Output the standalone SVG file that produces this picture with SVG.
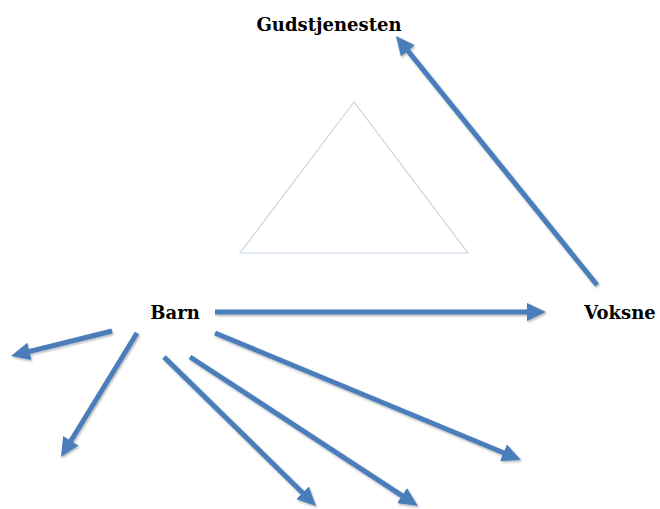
<svg xmlns="http://www.w3.org/2000/svg" width="660" height="509" viewBox="0 0 660 509">
<style>
.lbl{font-family:"DejaVu Serif","Liberation Serif",serif;font-weight:bold;font-size:18px;fill:#000;text-anchor:middle}
.arr{stroke:#4a7ebb;stroke-width:5;fill:none;marker-end:url(#ah);filter:url(#sh)}
</style>
<defs>
<marker id="ah" viewBox="0 0 19 18" refX="4" refY="9" markerWidth="19" markerHeight="18" markerUnits="userSpaceOnUse" orient="auto">
<path d="M0,0 L19,9 L0,18 z" fill="#4a7ebb"/>
</marker>
<filter id="sh" filterUnits="userSpaceOnUse" x="0" y="0" width="660" height="509">
<feDropShadow dx="1" dy="1.5" stdDeviation="1" flood-color="#000" flood-opacity="0.3"/>
</filter>
</defs>
<rect width="660" height="509" fill="#fff"/>
<g id="triangle">
<polygon points="354,102 240,253 468,253" fill="none" stroke="#c9d5e8" stroke-width="1.2"/>
</g>
<g id="gudstjenesten"><text class="lbl" x="329" y="31">Gudstjenesten</text></g>
<g id="barn"><text class="lbl" x="175" y="319">Barn</text></g>
<g id="voksne"><text class="lbl" x="620" y="319">Voksne</text></g>
<g id="connectors">
<line class="arr" x1="597" y1="285" x2="405.4" y2="47.7"/>
<line class="arr" x1="215" y1="312" x2="531" y2="312"/>
<line class="arr" x1="112" y1="331" x2="25.6" y2="352.4"/>
<line class="arr" x1="137" y1="333" x2="68.8" y2="444.2"/>
<line class="arr" x1="164" y1="357" x2="305.3" y2="495.5"/>
<line class="arr" x1="190" y1="357" x2="405.4" y2="497.8"/>
<line class="arr" x1="215" y1="333" x2="507.1" y2="454.3"/>
</g>
</svg>
